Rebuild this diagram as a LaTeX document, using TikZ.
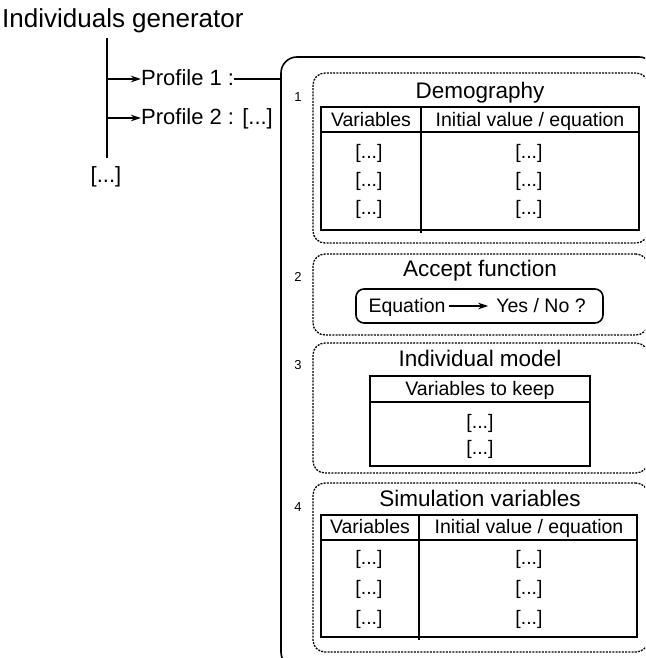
\documentclass[tikz,border=0pt]{standalone}
\usepackage{fontspec}
\setmainfont{Liberation Sans}
\usetikzlibrary{arrows.meta}
\begin{document}
\begin{tikzpicture}[x=1pt,y=-1pt,
  txt/.style={inner sep=0pt, anchor=center, text height=1.33em, text depth=0pt},
  big/.style={txt, font=\fontsize{26pt}{30pt}\selectfont},
  prof/.style={txt, font=\fontsize{22pt}{26pt}\selectfont},
  ttl/.style={txt, font=\fontsize{22.5pt}{26pt}\selectfont},
  cell/.style={txt, font=\fontsize{19.5pt}{23pt}\selectfont},
  num/.style={txt, font=\fontsize{13pt}{15pt}\selectfont},
  solidline/.style={line width=1.6pt},
  dbox/.style={draw, line width=1.3pt, dash pattern=on 2pt off 1.2pt, rounded corners=12pt, inner sep=0pt},
  bigbox/.style={draw, line width=1.6pt, rounded corners=16pt, inner sep=0pt},
  tip/.style={-{Stealth[length=10pt,width=6.5pt,inset=3pt]}, line width=1.3pt},
]
\useasboundingbox (0,0) rectangle (645,658);
\clip (0,0) rectangle (645,658);

% left part
\node[big, anchor=west] (gen) at (2,21) {Individuals generator};
\coordinate (vtop) at (107,38);
\coordinate (vbot) at (107,158);
\coordinate (v1) at (107,79);
\coordinate (v2) at (107,118);
\draw[solidline] (vtop) -- (vbot);
\node[prof, anchor=west] (p1) at (141,79) {Profile 1 :};
\node[prof, anchor=west] (p2) at (141,118) {Profile 2 : [...]};
\node[prof] (more) at (106,176) {[...]};
\draw[tip] (v1) -- (p1.west);
\draw[tip] (v2) -- (p2.west);

% big profile box
\node[bigbox, minimum width=374pt, minimum height=611pt] (profile) at (468,362.5) {};
\draw[solidline] (p1.east) -- (p1.east -| profile.west);

% dashed boxes
\node[dbox, minimum width=335pt, minimum height=170pt] (b1) at (480.5,158) {};
\node[dbox, minimum width=335pt, minimum height=81pt] (b2) at (480.5,294.5) {};
\node[dbox, minimum width=335pt, minimum height=130pt] (b3) at (480.5,408) {};
\node[dbox, minimum width=335pt, minimum height=169pt] (b4) at (480.5,567.5) {};

\node[num] (n1) at (298,95) {1};
\node[num] (n2) at (298,275) {2};
\node[num] (n3) at (298,363) {3};
\node[num] (n4) at (298,505) {4};

% 1 Demography
\node[ttl] (t1) at (480,92) {Demography};
\draw[solidline] (321,107) rectangle (639,230);
\draw[solidline] (321,132) -- (639,132);
\draw[solidline] (421,107) -- (421,233);
\node[cell] at (371,120) {Variables};
\node[cell] at (530,120) {Initial value / equation};
\foreach \y in {152,180,208} {
  \node[cell] at (369,\y) {[...]};
  \node[cell] at (529,\y) {[...]};
}

% 2 Accept function
\node[ttl] (t2) at (480,270) {Accept function};
\node[draw, line width=1.6pt, rounded corners=8pt, minimum width=247pt, minimum height=34pt, inner sep=0pt] (acc) at (479.5,306) {};
\node[cell] (eq) at (407,306) {Equation};
\node[cell] (yn) at (541,306) {Yes / No ?};
\draw[tip] ([xshift=3pt]eq.east) -- ([xshift=-8pt]yn.west);

% 3 Individual model
\node[ttl] (t3) at (480,360) {Individual model};
\draw[solidline] (370,376) rectangle (590,466);
\draw[solidline] (370,402) -- (590,402);
\node[cell] at (480,389) {Variables to keep};
\node[cell] at (480,422) {[...]};
\node[cell] at (480,448) {[...]};

% 4 Simulation variables
\node[ttl] (t4) at (480,500) {Simulation variables};
\draw[solidline] (321,515) rectangle (637,637);
\draw[solidline] (321,540) -- (637,540);
\draw[solidline] (419,515) -- (419,640);
\node[cell] at (370,527) {Variables};
\node[cell] at (529,527) {Initial value / equation};
\foreach \y in {558,588,618} {
  \node[cell] at (369,\y) {[...]};
  \node[cell] at (529,\y) {[...]};
}
\end{tikzpicture}
\end{document}
